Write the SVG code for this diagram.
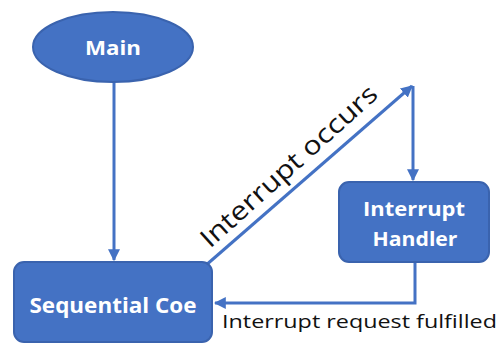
<svg xmlns="http://www.w3.org/2000/svg" width="503" height="343" viewBox="0 0 503 343">
<style>
.node{fill:#4472C4;stroke:#3A63AE;stroke-width:2}
.lbl{font-family:"Open Sans","Liberation Sans",sans-serif;font-weight:bold;fill:#fff;text-anchor:middle}
.conn{stroke:#4472C4;stroke-width:3;fill:none}
.txt{font-family:"Open Sans","Liberation Sans",sans-serif;fill:#111}
</style>
<defs>
<marker id="ah" viewBox="0 0 10 10" refX="9" refY="5" markerWidth="4" markerHeight="4" orient="auto" markerUnits="strokeWidth">
<path d="M0,0 L10,5 L0,10 z" fill="#4472C4"/>
</marker>
</defs>
<rect width="503" height="343" fill="#fff"/>
<g id="connectors">
<line class="conn" x1="114" y1="82" x2="114" y2="260" marker-end="url(#ah)"/>
<line class="conn" x1="205" y1="266" x2="412" y2="86" marker-end="url(#ah)"/>
<line class="conn" x1="413" y1="86" x2="413" y2="180" marker-end="url(#ah)"/>
<polyline class="conn" points="415,262 415,303 215,303" marker-end="url(#ah)"/>
<text class="txt" font-size="26" textLength="228" lengthAdjust="spacingAndGlyphs" transform="translate(210,249) rotate(-42)">Interrupt occurs</text>
<text class="txt" font-size="19" x="222" y="328" textLength="275" lengthAdjust="spacingAndGlyphs">Interrupt request fulfilled</text>
</g>
<g id="main">
<ellipse class="node" cx="113" cy="47" rx="80" ry="35"/>
<text class="lbl" x="113" y="55" font-size="20" textLength="56" lengthAdjust="spacingAndGlyphs">Main</text>
</g>
<g id="sequential">
<rect class="node" x="14" y="262" width="198" height="80" rx="10"/>
<text class="lbl" x="113" y="313" font-size="21" textLength="167" lengthAdjust="spacingAndGlyphs">Sequential Coe</text>
</g>
<g id="handler">
<rect class="node" x="339" y="182" width="150" height="80" rx="10"/>
<text class="lbl" x="414" y="216" font-size="20" textLength="102" lengthAdjust="spacingAndGlyphs">Interrupt</text>
<text class="lbl" x="415" y="246" font-size="20" textLength="85" lengthAdjust="spacingAndGlyphs">Handler</text>
</g>
</svg>
